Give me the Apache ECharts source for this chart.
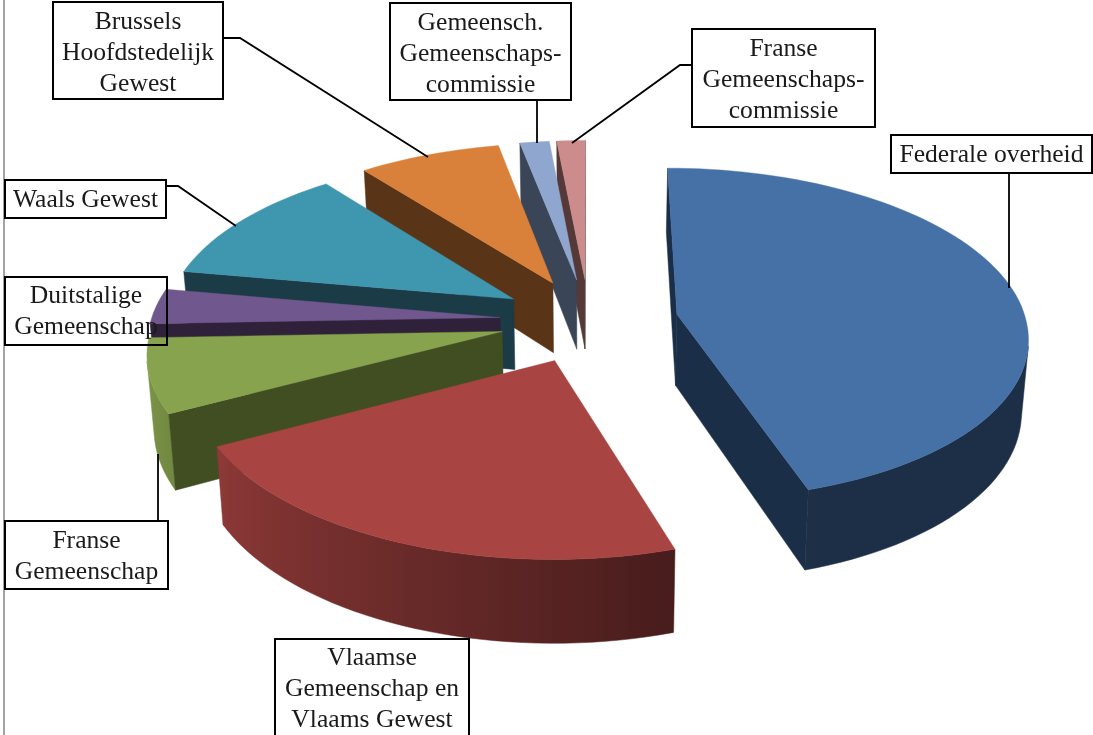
<!DOCTYPE html>
<html><head><meta charset="utf-8">
<style>html,body{margin:0;padding:0;background:#fff}#c{width:1093px;height:735px}</style>
<script src="https://cdn.jsdelivr.net/npm/echarts@6/dist/echarts.min.js"></script>
</head><body><div id="c"></div>
<script>
// --- data ---
const categories = ['Federale overheid','Vlaamse Gemeenschap en Vlaams Gewest','Franse Gemeenschap','Duitstalige Gemeenschap','Waals Gewest','Brussels Hoofdstedelijk Gewest','Gemeensch. Gemeenschaps-commissie','Franse Gemeenschaps-commissie'];
const values = [45.1, 22.1, 7.1, 3.4, 11.6, 7.5, 1.55, 1.5];
const labelLines = [['Federale overheid'],['Vlaamse','Gemeenschap en','Vlaams Gewest'],['Franse','Gemeenschap'],['Duitstalige','Gemeenschap'],['Waals Gewest'],['Brussels','Hoofdstedelijk','Gewest'],['Gemeensch.','Gemeenschaps-','commissie'],['Franse','Gemeenschaps-','commissie']];
const topColors = ['#4571a6','#a84442','#88a34e','#70578e','#3f96af','#d9813b','#8fa6cf','#cc8c8c'];
const wallColors = ['#1b2e47','#4a1a17','#414e22','#2e2139','#1b3b47','#5a3417','#3a4558','#553838'];

// --- layout / projection ---
const CX=589, Y0=320.5, SX=349, SY=164.8, P=0.119, SKEW=-3, DEPTH=71.5, EXPLODE=0.256, CONV=0.016;
const total = values.reduce((a,b)=>a+b,0);
let acc=0;
const spans = values.map(v=>{const s=[acc/total*2*Math.PI,(acc+v)/total*2*Math.PI];acc+=v;return s;});
function proj(u,v,z){const w=1+P*v;const x=CX+(SX*u+SKEW*Math.min(v,0))/w;return [CX+(x-CX)*(1-CONV*z),Y0-SY*v/w+DEPTH*z/w];}
function scale(hex,k){const n=parseInt(hex.slice(1),16);const f=s=>Math.round(((n>>s)&255)*k);return 'rgb('+f(16)+','+f(8)+','+f(0)+')';}
function arcShade(t){const d=t*180/Math.PI;return Math.max(.42,Math.min(.92,.42+(d-162)/80*.42));}
function faces(a,b){
  const A=proj(a[0],a[1],0),B=proj(b[0],b[1],0),A2=proj(a[0],a[1],1);
  return (A2[0]-A[0])*(B[1]-A[1])-(A2[1]-A[1])*(B[0]-A[0])>0;
}

function renderSlice(params,api){
  const i=api.value(0), a0=spans[i][0], a1=spans[i][1], m=(a0+a1)/2;
  const ou=EXPLODE*Math.sin(m), ov=EXPLODE*Math.cos(m);
  const steps=Math.max(2,Math.ceil((a1-a0)/(Math.PI/90)));
  const rim=[];
  for(let k=0;k<=steps;k++){const t=a0+(a1-a0)*k/steps;rim.push([ou+Math.sin(t),ov+Math.cos(t),t]);}
  const apex=[ou,ov];
  const children=[];
  const flat=(a,b)=>{
    if(!faces(a,b)) return;
    children.push({type:'polygon',shape:{points:[proj(a[0],a[1],0),proj(b[0],b[1],0),proj(b[0],b[1],1),proj(a[0],a[1],1)]},style:{fill:wallColors[i],stroke:wallColors[i],lineWidth:0.5}});
  };
  // outer wall: contiguous visible rim runs with a horizontal shade ramp
  let run=[];
  const flush=()=>{
    if(run.length>1){
      const tops=run.map(r=>proj(r[0],r[1],0)), bots=run.map(r=>proj(r[0],r[1],1));
      const xs=tops.concat(bots).map(p=>p[0]);
      const x0=Math.min.apply(null,xs), x1=Math.max.apply(null,xs), wd=Math.max(1,x1-x0);
      const stops=run.map((r,k)=>({offset:Math.max(0,Math.min(1,(tops[k][0]-x0)/wd)),color:scale(topColors[i],arcShade(r[2]))})).sort((p,q)=>p.offset-q.offset);
      const g={type:'linear',x:x0,y:0,x2:x1,y2:0,global:true,colorStops:stops};
      children.push({type:'polygon',shape:{points:tops.concat(bots.reverse())},style:{fill:g,stroke:g,lineWidth:0.5}});
    }
    run=[];
  };
  for(let k=0;k<steps;k++){
    if(faces(rim[k],rim[k+1])){ if(!run.length) run.push(rim[k]); run.push(rim[k+1]); }
    else flush();
  }
  flush();
  flat(apex,rim[0]);
  flat(rim[steps],apex);
  const pts=[proj(apex[0],apex[1],0)].concat(rim.map(r=>proj(r[0],r[1],0)));
  children.push({type:'polygon',shape:{points:pts},style:{fill:topColors[i],stroke:topColors[i],lineWidth:0.4}});
  return {type:'group',children:children};
}
// far slices first
const order = values.map((_,i)=>i).sort((a,b)=>Math.cos((spans[b][0]+spans[b][1])/2)-Math.cos((spans[a][0]+spans[a][1])/2));

// --- annotation layout: [x,y,w,h] per label, leader polyline ---
const boxes=[[891,135,201,38],[275,639,194,110],[5,521,163,68],[5,277,162,68],[5,180,161,38],[53,2,170,97],[390,3,181,97],[692,29,183,98]];
const leaders=[[[1009,173],[1009,288]],null,[[158,521],[158,454]],null,[[166,186],[178,186],[236,226]],[[223,38],[240,38],[428,157]],[[537,100],[537,143]],[[692,65],[680,65],[572,143]]];
const textTop=[155,658,541,296,200,22,23,49];
const FONT='"Liberation Serif",serif';
const gfx=[{type:'rect',shape:{x:3,y:0,width:2,height:735},style:{fill:'#a3a3a3'},z:5}];
boxes.forEach((b,i)=>{
  if(leaders[i]) gfx.push({type:'polyline',shape:{points:leaders[i]},style:{stroke:'#000',lineWidth:1.8,fill:'none'},z:6});
  gfx.push({type:'rect',shape:{x:b[0],y:b[1],width:b[2],height:b[3]},style:{fill:'transparent',stroke:'#000',lineWidth:2},z:7});
  labelLines[i].forEach((t,k)=>{
    gfx.push({type:'text',x:b[0]+b[2]/2,y:textTop[i]+k*31,z:8,style:{text:t,font:'25.6px '+FONT,fill:'#1a1a1a',textAlign:'center',textVerticalAlign:'middle'}});
  });
});

const chart=echarts.init(document.getElementById('c'),null,{renderer:'canvas'});
chart.setOption({
  animation:false,
  backgroundColor:'#fff',
  graphic:gfx,
  series:[{type:'custom',coordinateSystem:'none',silent:true,renderItem:renderSlice,
    encode:{itemName:1,value:2},
    data:order.map(i=>[i,categories[i],values[i]])}]
});
</script></body></html>
